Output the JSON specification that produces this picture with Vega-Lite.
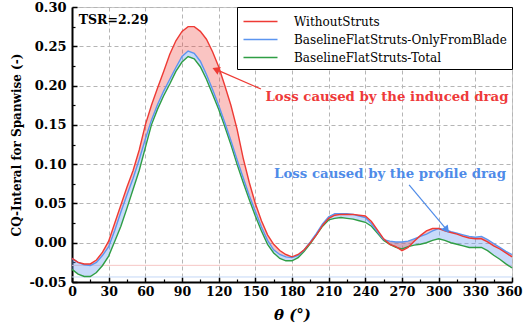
{
  "$schema": "https://vega.github.io/schema/vega-lite/v6.json",
  "width": 440,
  "height": 275,
  "autosize": {"type": "none"},
  "padding": {"left": 72, "top": 7, "right": 11, "bottom": 48},
  "background": "white",
  "config": {
    "font": "DejaVu Serif",
    "view": {"stroke": "#c8c8c8", "strokeWidth": 1}
  },
  "datasets": {
    "curves": [
      {"t": 0, "without": -0.020, "blade": -0.020, "total": -0.034},
      {"t": 5, "without": -0.025, "blade": -0.025, "total": -0.040},
      {"t": 10, "without": -0.027, "blade": -0.028, "total": -0.043},
      {"t": 15, "without": -0.027, "blade": -0.029, "total": -0.043},
      {"t": 20, "without": -0.022, "blade": -0.025, "total": -0.038},
      {"t": 25, "without": -0.012, "blade": -0.016, "total": -0.029},
      {"t": 30, "without": 0.002, "blade": -0.005, "total": -0.017},
      {"t": 35, "without": 0.025, "blade": 0.016, "total": 0.002},
      {"t": 40, "without": 0.048, "blade": 0.039, "total": 0.021},
      {"t": 45, "without": 0.071, "blade": 0.061, "total": 0.044},
      {"t": 50, "without": 0.092, "blade": 0.082, "total": 0.068},
      {"t": 55, "without": 0.118, "blade": 0.106, "total": 0.092},
      {"t": 60, "without": 0.150, "blade": 0.132, "total": 0.121},
      {"t": 65, "without": 0.175, "blade": 0.156, "total": 0.150},
      {"t": 70, "without": 0.197, "blade": 0.176, "total": 0.170},
      {"t": 75, "without": 0.218, "blade": 0.193, "total": 0.187},
      {"t": 80, "without": 0.240, "blade": 0.208, "total": 0.202},
      {"t": 85, "without": 0.257, "blade": 0.223, "total": 0.218},
      {"t": 90, "without": 0.269, "blade": 0.237, "total": 0.230},
      {"t": 95, "without": 0.275, "blade": 0.244, "total": 0.237},
      {"t": 100, "without": 0.275, "blade": 0.241, "total": 0.234},
      {"t": 105, "without": 0.269, "blade": 0.231, "total": 0.224},
      {"t": 110, "without": 0.259, "blade": 0.214, "total": 0.208},
      {"t": 115, "without": 0.243, "blade": 0.195, "total": 0.189},
      {"t": 120, "without": 0.224, "blade": 0.175, "total": 0.170},
      {"t": 125, "without": 0.200, "blade": 0.153, "total": 0.148},
      {"t": 130, "without": 0.175, "blade": 0.130, "total": 0.125},
      {"t": 135, "without": 0.145, "blade": 0.106, "total": 0.100},
      {"t": 140, "without": 0.108, "blade": 0.083, "total": 0.077},
      {"t": 145, "without": 0.077, "blade": 0.060, "total": 0.055},
      {"t": 150, "without": 0.050, "blade": 0.040, "total": 0.034},
      {"t": 155, "without": 0.028, "blade": 0.020, "total": 0.015},
      {"t": 160, "without": 0.010, "blade": 0.003, "total": -0.002},
      {"t": 165, "without": -0.002, "blade": -0.009, "total": -0.013},
      {"t": 170, "without": -0.010, "blade": -0.015, "total": -0.020},
      {"t": 175, "without": -0.015, "blade": -0.018, "total": -0.023},
      {"t": 180, "without": -0.018, "blade": -0.019, "total": -0.023},
      {"t": 185, "without": -0.015, "blade": -0.016, "total": -0.019},
      {"t": 190, "without": -0.009, "blade": -0.009, "total": -0.011},
      {"t": 195, "without": 0.000, "blade": 0.001, "total": -0.001},
      {"t": 200, "without": 0.010, "blade": 0.012, "total": 0.010},
      {"t": 205, "without": 0.022, "blade": 0.024, "total": 0.021},
      {"t": 210, "without": 0.031, "blade": 0.033, "total": 0.029},
      {"t": 215, "without": 0.035, "blade": 0.037, "total": 0.031},
      {"t": 220, "without": 0.036, "blade": 0.037, "total": 0.032},
      {"t": 225, "without": 0.036, "blade": 0.037, "total": 0.031},
      {"t": 230, "without": 0.036, "blade": 0.036, "total": 0.030},
      {"t": 235, "without": 0.035, "blade": 0.034, "total": 0.028},
      {"t": 240, "without": 0.034, "blade": 0.032, "total": 0.026},
      {"t": 245, "without": 0.027, "blade": 0.024, "total": 0.021},
      {"t": 250, "without": 0.016, "blade": 0.014, "total": 0.012},
      {"t": 255, "without": 0.005, "blade": 0.004, "total": 0.003},
      {"t": 260, "without": -0.002, "blade": 0.002, "total": -0.002},
      {"t": 265, "without": -0.005, "blade": 0.001, "total": -0.006},
      {"t": 270, "without": -0.010, "blade": 0.001, "total": -0.008},
      {"t": 275, "without": -0.006, "blade": 0.002, "total": -0.005},
      {"t": 280, "without": 0.002, "blade": 0.005, "total": -0.003},
      {"t": 285, "without": 0.009, "blade": 0.008, "total": -0.002},
      {"t": 290, "without": 0.015, "blade": 0.011, "total": 0.000},
      {"t": 295, "without": 0.018, "blade": 0.015, "total": 0.003},
      {"t": 300, "without": 0.018, "blade": 0.018, "total": 0.005},
      {"t": 305, "without": 0.015, "blade": 0.017, "total": 0.003},
      {"t": 310, "without": 0.013, "blade": 0.014, "total": 0.000},
      {"t": 315, "without": 0.011, "blade": 0.012, "total": -0.002},
      {"t": 320, "without": 0.008, "blade": 0.010, "total": -0.004},
      {"t": 325, "without": 0.006, "blade": 0.008, "total": -0.006},
      {"t": 330, "without": 0.005, "blade": 0.007, "total": -0.006},
      {"t": 335, "without": 0.005, "blade": 0.008, "total": -0.006},
      {"t": 340, "without": 0.001, "blade": 0.004, "total": -0.010},
      {"t": 345, "without": -0.004, "blade": -0.001, "total": -0.016},
      {"t": 350, "without": -0.008, "blade": -0.006, "total": -0.021},
      {"t": 355, "without": -0.013, "blade": -0.011, "total": -0.027},
      {"t": 360, "without": -0.018, "blade": -0.015, "total": -0.032}
    ],
    "redArrow": [{"t1": 154.6, "v1": 0.1956, "t2": 118.6, "v2": 0.220}],
    "blueArrow": [{"t1": 275.8, "v1": 0.0735, "t2": 306.0, "v2": 0.0175}]
  },
  "layer": [
    {
      "data": {"values": [{"level": -0.0288}]},
      "mark": {"type": "rule", "strokeWidth": 1, "color": "#F6C6C4"},
      "encoding": {
        "y": {"field": "level", "type": "quantitative", "scale": {"domain": [-0.05, 0.30], "nice": false, "zero": false},
          "axis": {
            "orient": "left",
            "values": [-0.05, 0, 0.05, 0.10, 0.15, 0.20, 0.25, 0.30],
            "labelExpr": "datum.value < 0 ? '-' + format(-datum.value, '.2f') : format(datum.value, '.2f')",
            "labelFontWeight": "bold", "labelFontSize": 13, "labelColor": "black",
            "labelPadding": 11,
            "tickSize": -5, "tickColor": "black", "tickWidth": 1.5,
            "domainColor": "black", "domainWidth": 2,
            "grid": true, "gridColor": "#b5b5b5", "gridDash": [4, 3], "gridWidth": 1,
            "title": "CQ-Interal for Spanwise (-)",
            "titleFontWeight": "bold", "titleFontSize": 12, "titleColor": "black",
            "titlePadding": 5
          }
        }
      }
    },
    {
      "data": {"values": [{"level": -0.0436}]},
      "mark": {"type": "rule", "strokeWidth": 1, "color": "#C3D7F6"},
      "encoding": {
        "y": {"field": "level", "type": "quantitative", "axis": null}
      }
    },
    {
      "data": {"name": "curves"},
      "mark": {"type": "point", "opacity": 0},
      "encoding": {
        "x": {"field": "t", "type": "quantitative", "scale": {"domain": [0, 360], "nice": false},
          "axis": {
            "orient": "bottom",
            "values": [0, 30, 60, 90, 120, 150, 180, 210, 240, 270, 300, 330, 360],
            "labelFontWeight": "bold", "labelFontSize": 12.5, "labelColor": "black",
            "labelPadding": 8, "labelFlush": false,
            "labelOffset": {"expr": "datum.value == 360 ? -3 : 0"},
            "tickSize": -5, "tickColor": "black", "tickWidth": 1.5,
            "domainColor": "black", "domainWidth": 2,
            "grid": true, "gridColor": "#b5b5b5", "gridDash": [4, 3], "gridWidth": 1,
            "title": "θ (°)",
            "titleFontWeight": "bold", "titleFontStyle": "italic", "titleFontSize": 15, "titleColor": "black",
            "titlePadding": 10
          }
        },
        "y": {"field": "without", "type": "quantitative", "axis": {
            "orient": "left", "values": [-0.025, 0.025, 0.075, 0.125, 0.175, 0.225, 0.275],
            "labels": false, "domain": false, "grid": false, "title": null,
            "tickSize": -3, "tickColor": "black", "tickWidth": 1.2
        }}
      }
    },
    {
      "data": {"name": "curves"},
      "mark": {"type": "point", "opacity": 0},
      "encoding": {
        "x": {"field": "t", "type": "quantitative", "axis": {
            "orient": "bottom", "values": [15, 45, 75, 105, 135, 165, 195, 225, 255, 285, 315, 345],
            "labels": false, "domain": false, "grid": false, "title": null,
            "tickSize": -3, "tickColor": "black", "tickWidth": 1.2
        }},
        "y": {"field": "without", "type": "quantitative", "axis": null}
      }
    },
    {
      "data": {"name": "curves"},
      "mark": {"type": "area", "color": "#6E9FF2", "opacity": 0.38},
      "encoding": {
        "x": {"field": "t", "type": "quantitative", "axis": null},
        "y": {"field": "blade", "type": "quantitative", "axis": null},
        "y2": {"field": "total"}
      }
    },
    {
      "data": {"name": "curves"},
      "mark": {"type": "area", "color": "#EE3A34", "opacity": 0.3},
      "encoding": {
        "x": {"field": "t", "type": "quantitative", "axis": null},
        "y": {"field": "without", "type": "quantitative", "axis": null},
        "y2": {"field": "blade"}
      }
    },
    {
      "data": {"name": "curves"},
      "transform": [{"fold": ["total", "blade", "without"], "as": ["series", "value"]}],
      "mark": {"type": "line", "strokeWidth": 1.4},
      "encoding": {
        "x": {"field": "t", "type": "quantitative", "axis": null},
        "y": {"field": "value", "type": "quantitative", "axis": null},
        "color": {
          "field": "series", "type": "nominal",
          "scale": {"domain": ["without", "blade", "total"], "range": ["#EE3A34", "#5B95F0", "#2F9E44"]},
          "legend": {
            "orient": "top-right", "offset": 0, "title": null,
            "strokeColor": "black", "fillColor": "white", "padding": 5,
            "labelExpr": "datum.value == 'without' ? 'WithoutStruts' : datum.value == 'blade' ? 'BaselineFlatStruts-OnlyFromBlade' : 'BaselineFlatStruts-Total'",
            "labelFontSize": 12, "labelColor": "black", "labelLimit": 400,
            "symbolType": "M-2,0H2", "symbolSize": 289, "symbolStrokeWidth": 1.5, "symbolOffset": 9,
            "labelOffset": 24, "rowPadding": 2
          }
        },
        "detail": {"field": "series"}
      }
    },
    {
      "data": {"name": "redArrow"},
      "mark": {"type": "rule", "color": "#EE3A34", "strokeWidth": 1.2},
      "encoding": {
        "x": {"field": "t1", "type": "quantitative", "axis": null},
        "y": {"field": "v1", "type": "quantitative", "axis": null},
        "x2": {"field": "t2"},
        "y2": {"field": "v2"}
      }
    },
    {
      "data": {"name": "redArrow"},
      "mark": {"type": "point", "shape": "triangle", "filled": true, "color": "#EE3A34", "size": 70, "angle": 293, "opacity": 1},
      "encoding": {
        "x": {"field": "t2", "type": "quantitative", "axis": null},
        "y": {"field": "v2", "type": "quantitative", "axis": null}
      }
    },
    {
      "data": {"name": "blueArrow"},
      "mark": {"type": "rule", "color": "#4F8BE8", "strokeWidth": 1.2},
      "encoding": {
        "x": {"field": "t1", "type": "quantitative", "axis": null},
        "y": {"field": "v1", "type": "quantitative", "axis": null},
        "x2": {"field": "t2"},
        "y2": {"field": "v2"}
      }
    },
    {
      "data": {"name": "blueArrow"},
      "mark": {"type": "point", "shape": "triangle", "filled": true, "color": "#4F8BE8", "size": 70, "angle": 141, "opacity": 1},
      "encoding": {
        "x": {"field": "t2", "type": "quantitative", "axis": null},
        "y": {"field": "v2", "type": "quantitative", "axis": null}
      }
    },
    {
      "data": {"values": [{"t": 5.5, "v": 0.284, "label": "TSR=2.29"}]},
      "mark": {"type": "text", "align": "left", "baseline": "middle", "fontWeight": "bold", "fontSize": 12.5, "color": "black"},
      "encoding": {
        "x": {"field": "t", "type": "quantitative", "axis": null},
        "y": {"field": "v", "type": "quantitative", "axis": null},
        "text": {"field": "label"}
      }
    },
    {
      "data": {"values": [{"t": 257.7, "v": 0.1855, "label": "Loss caused by the induced drag"}]},
      "mark": {"type": "text", "align": "center", "baseline": "middle", "fontWeight": "bold", "fontSize": 13.3, "color": "#EE3A3A"},
      "encoding": {
        "x": {"field": "t", "type": "quantitative", "axis": null},
        "y": {"field": "v", "type": "quantitative", "axis": null},
        "text": {"field": "label"}
      }
    },
    {
      "data": {"values": [{"t": 260.2, "v": 0.087, "label": "Loss caused by the profile drag"}]},
      "mark": {"type": "text", "align": "center", "baseline": "middle", "fontWeight": "bold", "fontSize": 13.3, "color": "#4F8BE8"},
      "encoding": {
        "x": {"field": "t", "type": "quantitative", "axis": null},
        "y": {"field": "v", "type": "quantitative", "axis": null},
        "text": {"field": "label"}
      }
    }
  ],
  "resolve": {"axis": {"x": "independent", "y": "independent"}}
}
